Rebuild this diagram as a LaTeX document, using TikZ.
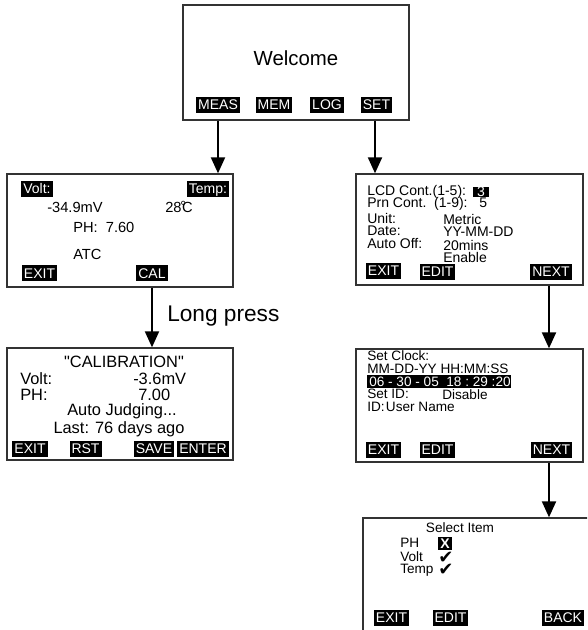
\documentclass[tikz,border=0pt]{standalone}
\usepackage{fontspec}
\setmainfont{Liberation Sans}
\newfontfamily\qfont{Liberation Sans}
\newfontfamily\dejavu{DejaVu Sans}
\usetikzlibrary{arrows.meta,fit}
\begin{document}
\begin{tikzpicture}[x=0.75pt,y=-0.75pt,
 screen/.style={draw=black!80, line width=1pt, inner sep=0pt},
 btn/.style={fill=black, text=white, font=\fontsize{10.5}{11}\selectfont, inner xsep=1.5pt, inner ysep=2pt, text height=7.5pt, text depth=0.5pt},
 txt/.style={inner sep=0pt, anchor=west},
 ctxt/.style={inner sep=0pt},
 mfont/.style={font=\fontsize{11}{12}\selectfont},
 cfont/.style={font=\fontsize{12.3}{13}\selectfont},
 sfont/.style={font=\fontsize{10.5}{11}\selectfont},
 kfont/.style={font=\fontsize{10.2}{11}\selectfont},
 ckfont/.style={font=\dejavu\fontsize{13.5}{13}\selectfont},
 arr/.style={line width=1.5pt, -{Triangle[length=12pt,width=10.5pt]}}]
\useasboundingbox (0,0) rectangle (587,630);
\clip (0,0) rectangle (587,630);

% ---------- Welcome ----------
\node[screen, fit={(183,5) (409,120)}] (welcome) {};
\node[ctxt, font=\fontsize{15.3}{16}\selectfont] (wtitle) at (296,58) {Welcome};
\node[btn] (bmeas) at (218,105) {MEAS};
\node[btn] (bmem) at (274,105) {MEM};
\node[btn] (blog) at (327,105) {LOG};
\node[btn] (bset) at (376.5,105) {SET};

% ---------- Measure ----------
\node[screen, fit={(7,174) (233,287)}] (meas) {};
\node[btn] (mvolt) at (37,189) {Volt:};
\node[btn] (mtemp) at (208,189) {Temp:};
\node[txt, mfont] (mmv) at (47,207) {-34.9mV};
\node[txt, mfont] (mdeg) at (165,207) {28\kern-1pt\raisebox{1pt}{°}\kern-3pt C};
\node[txt, mfont] (mph) at (73,227) {PH:\ \ 7.60};
\node[txt, mfont] (matc) at (73,254) {ATC};
\node[btn] (mexit) at (39.5,273.5) {EXIT};
\node[btn] (mcal) at (152,273.5) {CAL};

% ---------- Calibration ----------
\node[screen, fit={(7,348) (233,460)}] (cal) {};
\node[ctxt, cfont] (ctitle) at (124,362) {{\qfont "}CALIBRATION{\qfont "}};
\node[txt, cfont] (cvolt) at (20,378.5) {Volt:};
\node[txt, cfont] (cmv) at (133,378.5) {-3.6mV};
\node[txt, cfont] (cph) at (20,395) {PH:};
\node[txt, cfont] (cphv) at (138,395) {7.00};
\node[ctxt, cfont] (cauto) at (122,411.5) {Auto Judging...};
\node[ctxt, cfont] (clast) at (119,429) {Last: 76 days ago};
\node[btn] (cexit) at (30,449) {EXIT};
\node[btn] (crst) at (85.5,449) {RST};
\node[btn] (csave) at (154,449) {SAVE};
\node[btn] (center) at (203,449) {ENTER};

% ---------- Settings ----------
\node[screen, fit={(356,174) (583,285)}] (set) {};
\node[txt, sfont] (slcd) at (367,192) {LCD Cont.(1-5):};
\node[fill=black, text=white, sfont, inner xsep=3pt, inner ysep=0.3pt, text height=7.2pt, text depth=0pt] (slcdv) at (481,192) {3};
\node[txt, sfont] (sprn) at (367,204) {Prn Cont.\ \ (1-9):\ \ \ 5};
\node[txt, sfont] (sunit) at (367,218) {Unit:};
\node[txt, sfont] (sunitv) at (443,219) {Metric};
\node[txt, sfont] (sdate) at (367,231) {Date:};
\node[txt, sfont] (sdatev) at (443,232) {YY-MM-DD};
\node[txt, sfont] (sauto) at (367,244) {Auto Off:};
\node[txt, sfont] (sautov) at (443,245) {20mins};
\node[txt, sfont] (sen) at (443,257) {Enable};
\node[btn] (sexit) at (383.5,271) {EXIT};
\node[btn] (sedit) at (437.5,272) {EDIT};
\node[btn] (snext) at (551,272) {NEXT};

% ---------- Clock ----------
\node[screen, fit={(356,349) (583,462)}] (clock) {};
\node[txt, kfont] (kset) at (367,356) {Set Clock:};
\node[txt, kfont] (kfmt) at (367,369) {MM-DD-YY HH:MM:SS};
\node[fill=black, text=white, kfont, inner sep=0pt, minimum width=108pt, minimum height=9.8pt, anchor=west] (kbar) at (367,381.5) {};
\node[txt, kfont, text=white] (kval) at (369,382) {06 - 30 - 05\ \ 18 :\ 29 :20};
\node[txt, kfont] (kid) at (367,394) {Set ID:};
\node[txt, kfont] (kdis) at (442,395) {Disable};
\node[txt, kfont] (kname) at (367,407) {ID:\kern1pt User Name};
\node[btn] (kexit) at (383.5,450) {EXIT};
\node[btn] (kedit) at (437.5,450) {EDIT};
\node[btn] (knext) at (551.5,450) {NEXT};

% ---------- Select ----------
\node[screen, fit={(363,518) (600,645)}] (sel) {};
\node[ctxt, kfont] (ltitle) at (460,528) {Select Item};
\node[txt, kfont] (lph) at (400,543) {PH};
\node[fill=black, text=white, inner sep=0pt, minimum width=10.5pt, minimum height=9.5pt, font=\fontsize{10.5}{10}\bfseries] (lx) at (445,543.5) {X};
\node[txt, kfont] (lvolt) at (400,557) {Volt};
\node[ctxt, ckfont] (lck1) at (446,557.5) {✔};
\node[txt, kfont] (ltemp) at (400,570) {Temp};
\node[ctxt, ckfont] (lck2) at (446,570) {✔};
\node[btn] (lexit) at (391.5,618) {EXIT};
\node[btn] (ledit) at (450.5,618) {EDIT};
\node[btn] (lback) at (563,618) {BACK};

% ---------- Arrows ----------
\draw[arr] (welcome.south -| bmeas) -- (meas.north -| bmeas);
\draw[arr] (welcome.south -| 375,0) -- (set.north -| 375,0);
\draw[arr] (meas.south -| mcal) -- (cal.north -| mcal);
\node[txt, font=\fontsize{17}{18}\selectfont] (lp) at (167,316) {Long press};
\draw[arr] (set.south -| 549,0) -- (clock.north -| 549,0);
\draw[arr] (clock.south -| 549,0) -- (sel.north -| 549,0);
\end{tikzpicture}
\end{document}
